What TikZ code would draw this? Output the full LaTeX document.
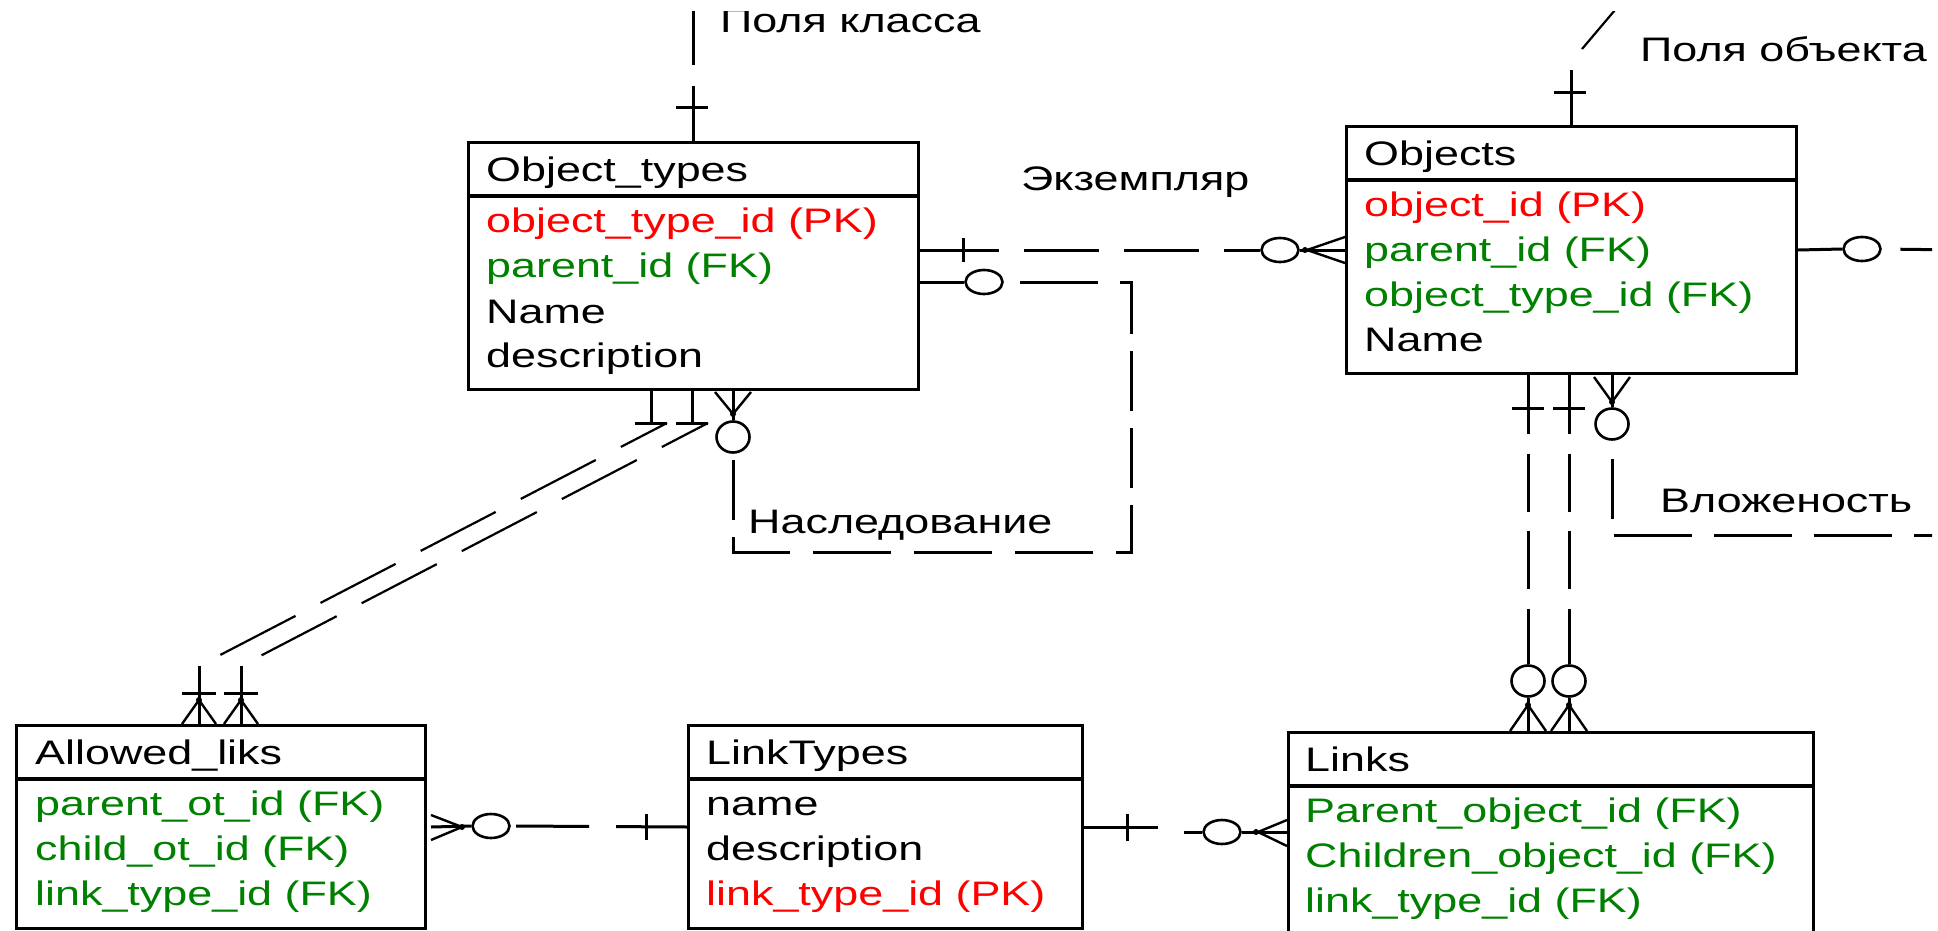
\documentclass[tikz,border=0pt]{standalone}
\usepackage{fontspec}
\setmainfont{Liberation Sans}[FakeStretch=1.32]
\usetikzlibrary{shapes.geometric}
\definecolor{pkred}{RGB}{255,0,0}
\definecolor{fkgreen}{RGB}{0,128,0}
\begin{document}
\begin{tikzpicture}[x=1pt,y=-1pt,
  entity/.style={draw, line width=3.2pt, inner sep=0pt, anchor=north west},
  sepline/.style={line width=3.2pt},
  txt/.style={anchor=base west, inner sep=0pt, font=\fontsize{34pt}{40pt}\selectfont},
  pk/.style={txt, text=pkred},
  fk/.style={txt, text=fkgreen},
  rel/.style={line width=3pt},
  diag/.style={line width=2.2pt, dash pattern=on 84.6pt off 28.2pt, dash phase=32.6pt},
  hopt/.style={ellipse, draw, line width=2.6pt, fill=white, inner sep=0pt, minimum width=37pt, minimum height=24pt},
  vopt/.style={ellipse, draw, line width=2.6pt, fill=white, inner sep=0pt, minimum width=33pt, minimum height=31pt},
  prong/.style={line width=2.4pt},
  junc/.style={circle, fill, inner sep=0pt, minimum size=6pt},
]
\useasboundingbox (0,0) rectangle (1938,931);
\begin{scope}
\clip (0,12) rectangle (1932,931);

% ---------- entities ----------
\node[entity, minimum width=450pt, minimum height=247pt] (ot) at (467,141) {};
\draw[sepline] (ot.west |- 0,196) -- (ot.east |- 0,196);
\node[txt] (ot-h) at (486,182) {Object\_types};
\node[pk]  (ot-1) at (486,232) {object\_type\_id (PK)};
\node[fk]  (ot-2) at (486,277) {parent\_id (FK)};
\node[txt] (ot-3) at (486,323) {Name};
\node[txt] (ot-4) at (486,367) {description};

\node[entity, minimum width=450pt, minimum height=247pt] (obj) at (1345,125) {};
\draw[sepline] (obj.west |- 0,180) -- (obj.east |- 0,180);
\node[txt] (obj-h) at (1364,165) {Objects};
\node[pk]  (obj-1) at (1364,216) {object\_id (PK)};
\node[fk]  (obj-2) at (1364,261) {parent\_id (FK)};
\node[fk]  (obj-3) at (1364,306) {object\_type\_id (FK)};
\node[txt] (obj-4) at (1364,351) {Name};

\node[entity, minimum width=409pt, minimum height=203pt] (al) at (15,724) {};
\draw[sepline] (al.west |- 0,779) -- (al.east |- 0,779);
\node[txt] (al-h) at (35,764) {Allowed\_liks};
\node[fk]  (al-1) at (35,815) {parent\_ot\_id (FK)};
\node[fk]  (al-2) at (35,860) {child\_ot\_id (FK)};
\node[fk]  (al-3) at (35,905) {link\_type\_id (FK)};

\node[entity, minimum width=394pt, minimum height=203pt] (lt) at (687,724) {};
\draw[sepline] (lt.west |- 0,779) -- (lt.east |- 0,779);
\node[txt] (lt-h) at (706,764) {LinkTypes};
\node[txt] (lt-1) at (706,815) {name};
\node[txt] (lt-2) at (706,860) {description};
\node[pk]  (lt-3) at (706,905) {link\_type\_id (PK)};

\node[entity, minimum width=525pt, minimum height=240pt] (ln) at (1287,731) {};
\draw[sepline] (ln.west |- 0,786) -- (ln.east |- 0,786);
\node[txt] (ln-h) at (1305,771) {Links};
\node[fk]  (ln-1) at (1305,822) {Parent\_object\_id (FK)};
\node[fk]  (ln-2) at (1305,867) {Children\_object\_id (FK)};
\node[fk]  (ln-3) at (1305,912) {link\_type\_id (FK)};

% ---------- labels ----------
\node[txt] (lab-cls)  at (720,33)   {Поля класса};
\node[txt] (lab-objf) at (1640,62)  {Поля объекта};
\node[txt] (lab-inst) at (1021,190) {Экземпляр};
\node[txt] (lab-inh)  at (748,533)  {Наследование};
\node[txt] (lab-nest) at (1660,512) {Вложеность};

% ---------- class fields (up from Object_types) ----------
\coordinate (clsEnd) at (692,0);
\draw[rel, dash pattern=on 55pt off 21pt] (ot.north) -- (ot.north |- clsEnd);
\draw[rel] (676,108) -- (708,108);

% ---------- object fields (up from Objects) ----------
\coordinate (objfA) at (1582,49);
\coordinate (objfB) at (1615,10);
\draw[rel] (obj.north) -- (obj.north |- 0,70);
\draw[rel] (1554,93) -- (1586,93);
\draw[line width=2.2pt] (objfA) -- (objfB);

% ---------- instance: Object_types -> Objects ----------
\node[hopt] (e1) at (1280,250) {};
\draw[rel, dash pattern=on 79pt off 25pt on 75pt off 25pt on 75pt off 25pt on 75pt off 25pt]
  (ot.east |- 0,250) -- (e1.west);
\draw[rel] (963,238) -- (963,262);
\draw[rel] (e1.east) -- (obj.west |- 0,250);
\draw[prong] (1307,250) -- (obj.west |- 0,237);
\draw[prong] (1307,250) -- (obj.west |- 0,263);
\node[junc] at (1305,250) {};

% ---------- inheritance: Object_types -> Object_types ----------
\coordinate (inhTR) at (1131,282);
\coordinate (inhBR) at (1131,552);
\coordinate (inhBL) at (733,552);
\node[hopt] (e2) at (984,282) {};
\node[vopt] (e3) at (733,437) {};
\draw[rel] (ot.east |- 0,282) -- (e2.west);
\draw[rel, line cap=rect, dash pattern=on 75pt off 25pt, dash phase=82pt] (e2.east) -- (inhTR);
\draw[rel, line cap=rect, dash pattern=on 57pt off 20pt, dash phase=7pt] (inhTR) -- (inhBR);
\draw[rel, line cap=rect, dash pattern=on 75pt off 26pt, dash phase=61pt] (inhBR) -- (inhBL);
\draw[rel, line cap=rect, dash pattern=on 57pt off 20pt, dash phase=43pt] (inhBL) -- (e3.south);
\draw[rel] (e3.north) -- (ot.south -| e3);
\draw[prong] (733,414) -- (715,392);
\draw[prong] (733,414) -- (751,392);
\node[junc] at (733,414) {};

% ---------- nesting: Objects -> Objects ----------
\coordinate (nestC) at (1612,535);
\coordinate (nestR) at (1960,535);
\coordinate (nestS) at (1960,250);
\node[hopt] (e4) at (1862,249) {};
\node[vopt] (e5) at (1612,424) {};
\draw[rel] (obj.east |- 0,250) -- (e4.west);
\draw[rel, dash pattern=on 75pt off 25pt, dash phase=81.5pt] (e4.east) -- (nestS);
\draw[rel, line cap=rect, dash pattern=on 75pt off 25pt, dash phase=97pt] (nestC) -- (nestR);
\draw[rel, line cap=rect, dash pattern=on 57pt off 20pt, dash phase=59pt] (nestC) -- (e5.south);
\draw[rel] (e5.north) -- (obj.south -| e5);
\draw[prong] (1612,402) -- (1594,377);
\draw[prong] (1612,402) -- (1630,377);
\node[junc] at (1612,402) {};

% ---------- parent / child: Objects -> Links ----------
\node[vopt] (e6) at (1528,681) {};
\node[vopt] (e7) at (1569,681) {};
\foreach \e/\x in {e6/1528, e7/1569} {
  \draw[rel, dash pattern=on 59pt off 19.5pt on 58pt off 19.5pt on 58pt off 19.5pt on 58pt off 19.5pt]
    (obj.south -| \e) -- (\e.north);
  \draw[rel] (\x-16,408) -- (\x+16,408);
  \draw[rel] (\e.south) -- (ln.north -| \e);
  \draw[prong] (\x,705) -- (\x-18,731);
  \draw[prong] (\x,705) -- (\x+18,731);
  \node[junc] at (\x,705) {};
}

% ---------- allowed links: Object_types -> Allowed_liks ----------
\coordinate (alA) at (199,666);
\coordinate (alB) at (241,666);
\draw[rel] (ot.south -| 651,0) -- (651,423);
\draw[rel] (635,423) -- (667,423);
\draw[rel] (ot.south -| 692,0) -- (692,423);
\draw[rel] (676,423) -- (708,423);
\draw[diag] (667,423) -- (alA);
\draw[diag] (708,423) -- (alB);
\foreach \c in {alA, alB} {
  \draw[rel] (\c) -- (al.north -| \c);
  \draw[rel] ([xshift=-17pt]\c |- 0,693) -- ([xshift=17pt]\c |- 0,693);
  \draw[prong] (\c |- 0,700) -- ([xshift=-17pt]\c |- 0,724);
  \draw[prong] (\c |- 0,700) -- ([xshift=17pt]\c |- 0,724);
  \node[junc] at (\c |- 0,700) {};
}

% ---------- LinkTypes -> Allowed_liks ----------
\node[hopt] (e8) at (491,826) {};
\draw[rel, dash pattern=on 71pt off 27pt on 73pt off 20pt] (lt.west |- 0,827) -- (e8.east);
\draw[rel] (646,814) -- (646,840);
\draw[rel] (e8.west) -- (431,827);
\draw[prong] (462,827) -- (431,815);
\draw[prong] (462,827) -- (431,840);
\node[junc] at (462,827) {};

% ---------- LinkTypes -> Links ----------
\node[hopt] (e9) at (1222,832) {};
\draw[rel] (lt.east |- 0,827) -- (1158,827);
\draw[rel] (1127,814) -- (1127,841);
\draw[rel] (1184,832) -- (e9.west);
\draw[rel] (e9.east) -- (ln.west |- 0,832);
\draw[prong] (1258,832) -- (ln.west |- 0,820);
\draw[prong] (1258,832) -- (ln.west |- 0,846);
\node[junc] at (1256,832) {};
\end{scope}
\end{tikzpicture}
\end{document}
